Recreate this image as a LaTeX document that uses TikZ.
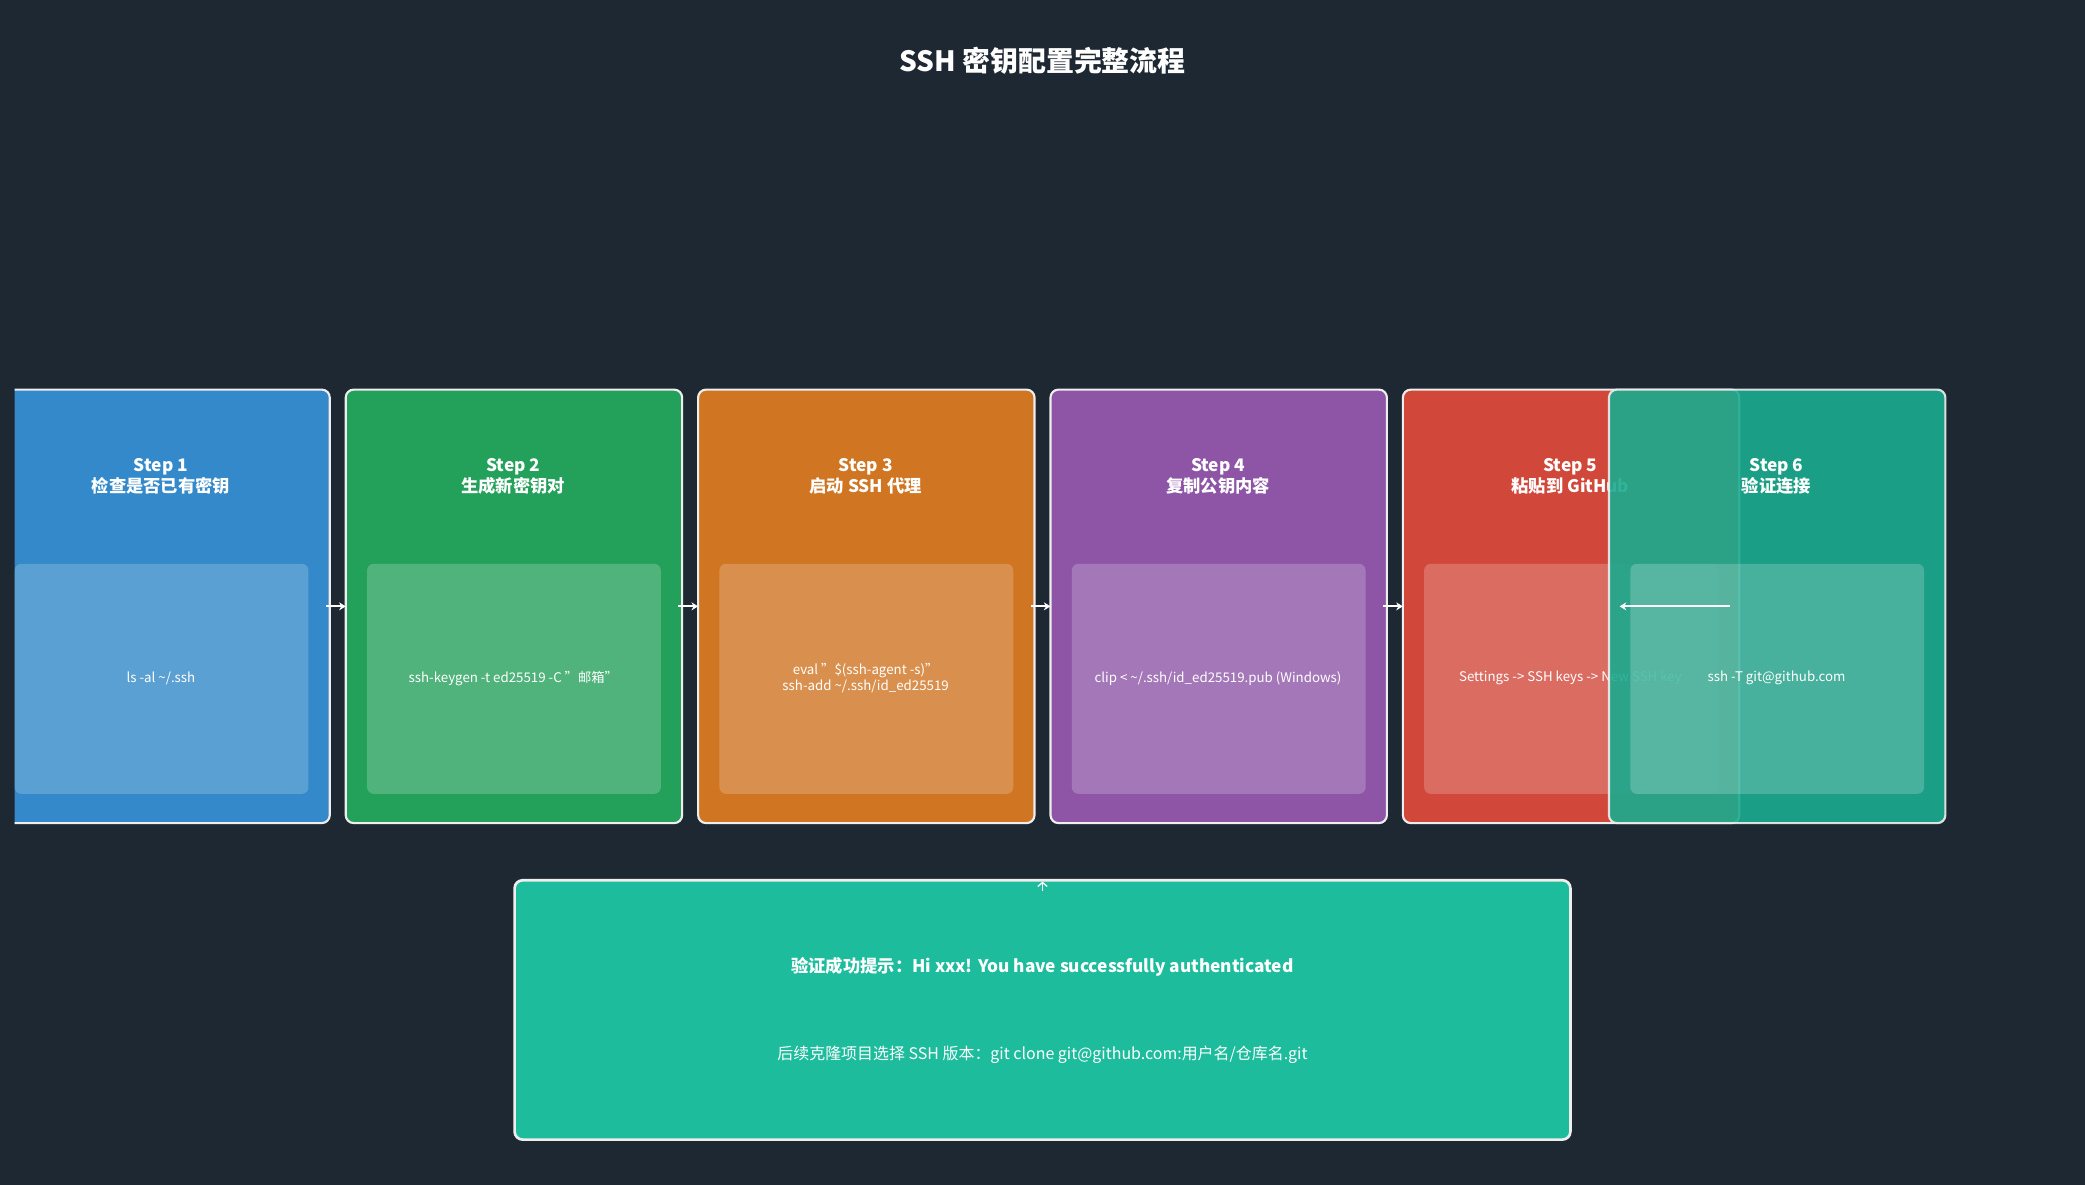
\documentclass[tikz,border=0pt]{standalone}
\usepackage{fontspec}
\setmainfont{Noto Sans CJK SC}
\usetikzlibrary{arrows.meta}
\definecolor{bg}{HTML}{1E2833}
\definecolor{c1}{HTML}{3389C9}
\definecolor{c2}{HTML}{23A05A}
\definecolor{c3}{HTML}{D07522}
\definecolor{c4}{HTML}{8E55A7}
\definecolor{c5}{HTML}{D1483B}
\definecolor{c6}{HTML}{1AAB8F}
\definecolor{c7}{HTML}{1CBC9C}
\definecolor{edge}{HTML}{EEEEEE}
\tikzset{
 x=1pt,y=-1pt,
 stepbox/.style={draw=edge,line width=1.6pt,rounded corners=6pt},
 inner/.style={fill=white,fill opacity=0.2,rounded corners=5pt},
 ttl/.style={text=white,font=\fontsize{13}{16}\selectfont\bfseries,align=center},
 code/.style={text=white,font=\fontsize{10}{12}\selectfont,align=center},
 arr/.style={draw=white,line width=1.6pt,-{Stealth[length=5pt,width=6pt]}},
}
\begin{document}
\begin{tikzpicture}
\fill[bg] (0,0) rectangle (1568,891);
\useasboundingbox (0,0) rectangle (1568,891);
\node[text=white,font=\fontsize{21}{25}\selectfont\bfseries] (title) at (784,46) {SSH 密钥配置完整流程};
\begin{scope}
\clip (11,280) rectangle (300,640);
\draw[stepbox,fill=c1] (-5,293) rectangle (248,619);
\end{scope}
\coordinate (b1e) at (248,456);
\fill[inner] (11,424) rectangle (232,597);
\node[ttl] (t1) at (121,358) {Step 1\\检查是否已有密钥};
\node[code] (k1) at (121,510) {ls -al \textasciitilde/.ssh};
\draw[stepbox,fill=c2] (260,293) rectangle (513,619);
\fill[inner] (276,424) rectangle (497,597);
\node[ttl] (t2) at (386,358) {Step 2\\生成新密钥对};
\node[code] (k2) at (386,510) {ssh-keygen -t ed25519 -C "邮箱"};
\draw[stepbox,fill=c3] (525,293) rectangle (778,619);
\fill[inner] (541,424) rectangle (762,597);
\node[ttl] (t3) at (651,358) {Step 3\\启动 SSH 代理};
\node[code] (k3) at (651,510) {eval "\$(ssh-agent -s)"\\ssh-add \textasciitilde/.ssh/id\_ed25519};
\draw[stepbox,fill=c4] (790,293) rectangle (1043,619);
\fill[inner] (806,424) rectangle (1027,597);
\node[ttl] (t4) at (916,358) {Step 4\\复制公钥内容};
\node[code] (k4) at (916,510) {clip < \textasciitilde/.ssh/id\_ed25519.pub  (Windows)};
\draw[stepbox,fill=c5] (1055,293) rectangle (1308,619);
\fill[inner] (1071,424) rectangle (1292,597);
\node[ttl] (t5) at (1181,358) {Step 5\\粘贴到 GitHub};
\node[code] (k5) at (1181,510) {Settings -> SSH keys -> New SSH key};
\begin{scope}[opacity=0.9]
\draw[stepbox,fill=c6] (1210,293) rectangle (1463,619);
\end{scope}
\fill[inner] (1226,424) rectangle (1447,597);
\node[ttl] (t6) at (1336,358) {Step 6\\验证连接};
\node[code] (k6) at (1336,510) {ssh -T git@github.com};
\coordinate (a1s) at (245,456); \coordinate (a1e) at (260,456);
\coordinate (a2s) at (510,456); \coordinate (a2e) at (525,456);
\coordinate (a3s) at (775,456); \coordinate (a3e) at (790,456);
\coordinate (a4s) at (1040,456); \coordinate (a4e) at (1055,456);
\coordinate (a5s) at (1301,456); \coordinate (a5e) at (1218,456);
\draw[arr] (a1s) -- (a1e);
\draw[arr] (a2s) -- (a2e);
\draw[arr] (a3s) -- (a3e);
\draw[arr] (a4s) -- (a4e);
\draw[arr] (a5s) -- (a5e);
\draw[stepbox,line width=2pt,fill=c7] (387,662) rectangle (1181,857);
\coordinate (cs) at (784,670); \coordinate (ce) at (784,663);
\draw[draw=white,line width=1pt,-{Straight Barb[length=3pt,width=7pt]}] (cs) -- (ce);
\node[text=white,font=\fontsize{13}{16}\selectfont\bfseries] (m1) at (784,727) {验证成功提示：Hi xxx! You have successfully authenticated};
\node[text=white,font=\fontsize{12}{15}\selectfont] (m2) at (784,793) {后续克隆项目选择 SSH 版本：git clone git@github.com:用户名/仓库名.git};
\end{tikzpicture}
\end{document}
